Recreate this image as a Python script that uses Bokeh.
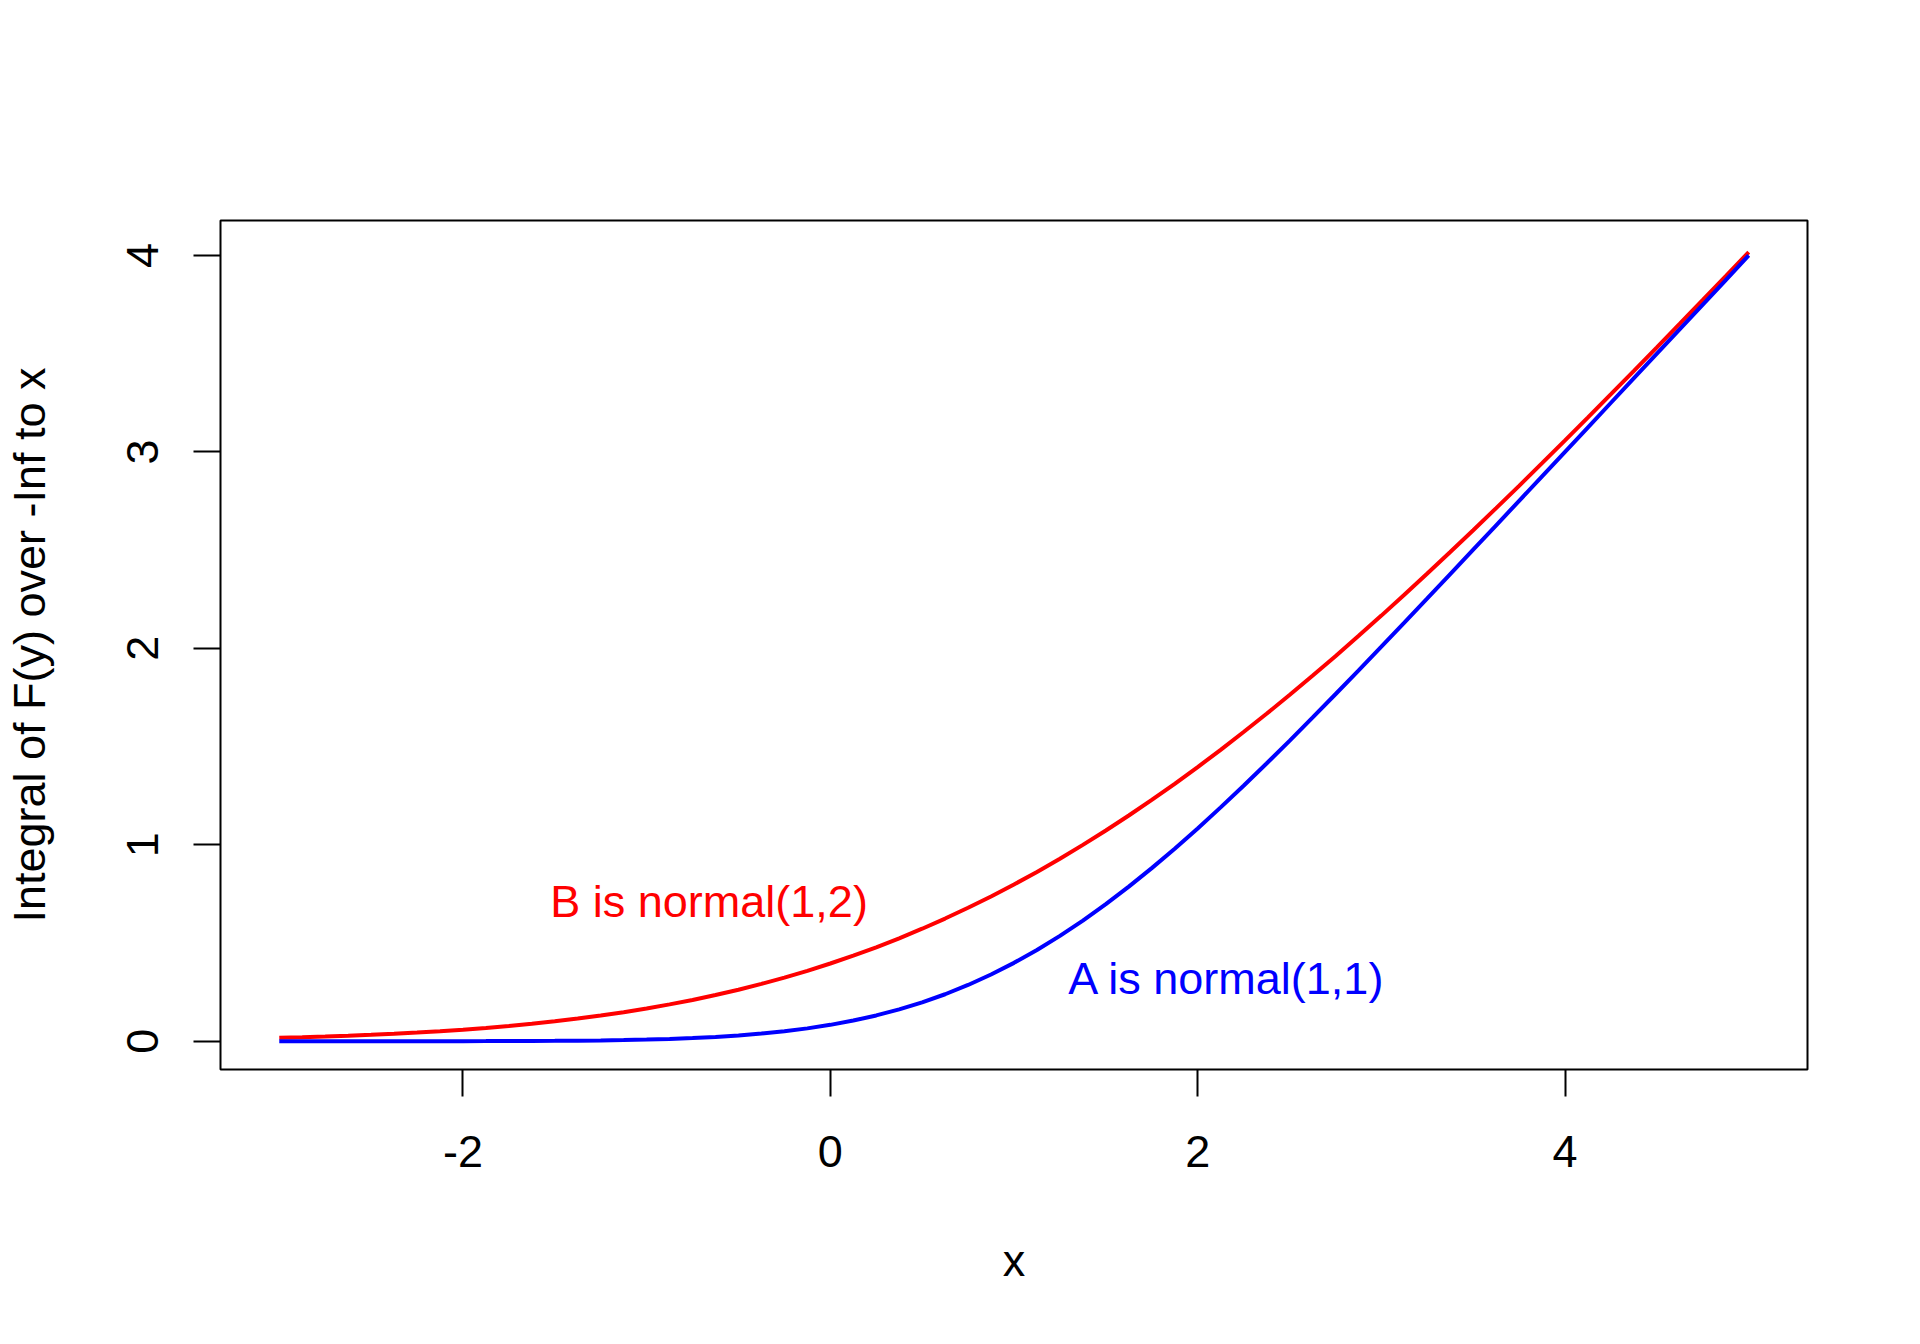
import math
from bokeh.plotting import figure
from bokeh.models import Range1d, FixedTicker
from bokeh.embed import file_html
from bokeh.resources import INLINE
from bokeh.core.properties import value

# x grid (step 0.125) and curve values
x_vals = [-3.0, -2.875, -2.75, -2.625, -2.5, -2.375, -2.25, -2.125,
          -2.0, -1.875, -1.75, -1.625, -1.5, -1.375, -1.25, -1.125,
          -1.0, -0.875, -0.75, -0.625, -0.5, -0.375, -0.25, -0.125,
          0.0, 0.125, 0.25, 0.375, 0.5, 0.625, 0.75, 0.875,
          1.0, 1.125, 1.25, 1.375, 1.5, 1.625, 1.75, 1.875,
          2.0, 2.125, 2.25, 2.375, 2.5, 2.625, 2.75, 2.875,
          3.0, 3.125, 3.25, 3.375, 3.5, 3.625, 3.75, 3.875,
          4.0, 4.125, 4.25, 4.375, 4.5, 4.625, 4.75, 4.875, 5.0]
a_vals = [0.0000, 0.0000, 0.0000, 0.0000, 0.0001, 0.0001, 0.0002, 0.0002,
          0.0004, 0.0006, 0.0009, 0.0014, 0.0020, 0.0029, 0.0042, 0.0060,
          0.0085, 0.0118, 0.0162, 0.0220, 0.0293, 0.0387, 0.0506, 0.0653,
          0.0833, 0.1051, 0.1312, 0.1620, 0.1978, 0.2391, 0.2863, 0.3396,
          0.3989, 0.4646, 0.5363, 0.6141, 0.6978, 0.7870, 0.8812, 0.9799,
          1.0833, 1.1903, 1.3006, 1.4137, 1.5293, 1.6470, 1.7662, 1.8868,
          2.0085, 2.1310, 2.2542, 2.3779, 2.5020, 2.6264, 2.7509, 2.8756,
          3.0004, 3.1252, 3.2502, 3.3751, 3.5001, 3.6250, 3.7500, 3.8750, 4.0000]
b_vals = [0.0170, 0.0200, 0.0236, 0.0277, 0.0323, 0.0377, 0.0441, 0.0508,
          0.0586, 0.0675, 0.0773, 0.0887, 0.1012, 0.1151, 0.1306, 0.1477,
          0.1666, 0.1874, 0.2102, 0.2352, 0.2623, 0.2919, 0.3239, 0.3584,
          0.3956, 0.4355, 0.4782, 0.5240, 0.5727, 0.6244, 0.6791, 0.7369,
          0.7979, 0.8619, 0.9291, 0.9994, 1.0727, 1.1490, 1.2282, 1.3105,
          1.3956, 1.4834, 1.5739, 1.6669, 1.7623, 1.8602, 1.9597, 2.0624,
          2.1666, 2.2727, 2.3806, 2.4901, 2.6012, 2.7137, 2.8273, 2.9425,
          3.0586, 3.1758, 3.2941, 3.4127, 3.5323, 3.6527, 3.7736, 3.8950, 4.0170]
x_ticks = [-2, 0, 2, 4]
y_ticks = [0, 1, 2, 3, 4]
label_a = "A is normal(1,1)"
label_b = "B is normal(1,2)"
x_title = "x"
y_title = "Integral of F(y) over -Inf to x"

FONT = "Liberation Sans"
FS = "45px"

p = figure(width=1904, height=1328, output_backend="svg", toolbar_location=None,
           x_range=Range1d(-3.32, 5.32), y_range=Range1d(-0.144, 4.178),
           min_border_left=220, min_border_right=97, min_border_top=220, min_border_bottom=259)
p.background_fill_color = "white"
p.border_fill_color = "white"
p.outline_line_color = "black"
p.outline_line_width = 2
p.xgrid.visible = False
p.ygrid.visible = False

for ax in (p.xaxis[0], p.yaxis[0]):
    ax.axis_line_color = None
    ax.major_tick_in = 0
    ax.major_tick_out = 27
    ax.major_tick_line_width = 2
    ax.major_tick_line_color = "black"
    ax.minor_tick_line_color = None
    ax.major_label_text_font = FONT
    ax.major_label_text_font_size = FS
    ax.major_label_text_color = "black"
    ax.axis_label_text_font = FONT
    ax.axis_label_text_font_size = FS
    ax.axis_label_text_font_style = "normal"
    ax.axis_label_text_color = "black"

p.xaxis.ticker = FixedTicker(ticks=x_ticks)
p.yaxis.ticker = FixedTicker(ticks=y_ticks)
p.xaxis.major_label_overrides = {t: str(t) for t in x_ticks}
p.xaxis.axis_label = x_title
p.yaxis.axis_label = y_title
p.xaxis.major_label_standoff = 39
p.yaxis.major_label_standoff = 35
p.yaxis.major_label_orientation = "parallel"
p.xaxis.axis_label_standoff = 65
p.yaxis.axis_label_standoff = 70

p.line(x_vals, b_vals, line_color="#FF0000", line_width=4)
p.line(x_vals, a_vals, line_color="#0000FF", line_width=4)

p.text(x=[-0.66], y=[0.71], text=[label_b], text_color="#FF0000",
       text_font=value(FONT), text_font_size=FS, text_align="center", text_baseline="middle")
p.text(x=[2.16], y=[0.32], text=[label_a], text_color="#0000FF",
       text_font=value(FONT), text_font_size=FS, text_align="center", text_baseline="middle")

open("out.html", "w").write(file_html(p, INLINE))
